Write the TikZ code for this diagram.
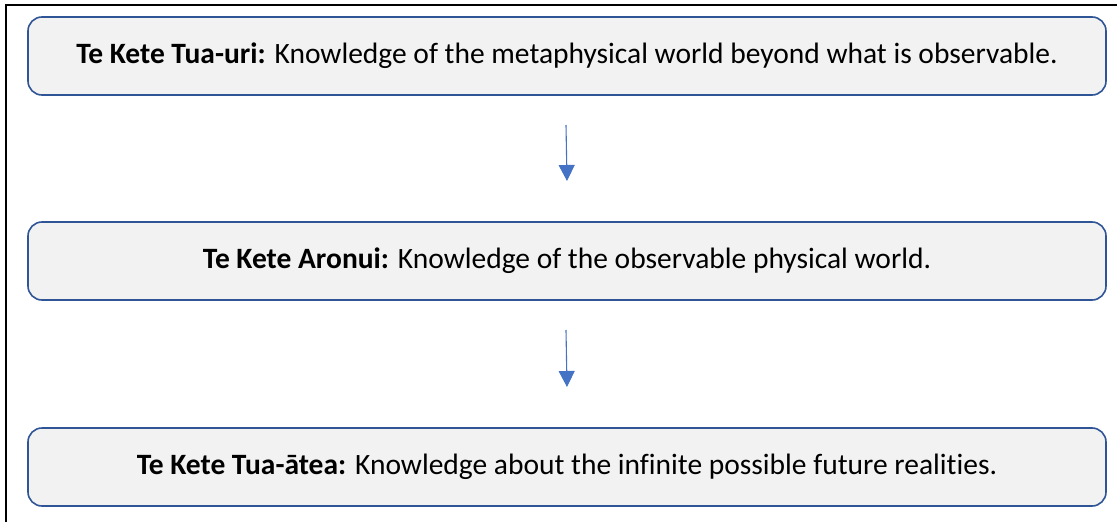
\documentclass[tikz,border=0pt]{standalone}
\usepackage{fontspec}
\setmainfont{Carlito}[Ligatures=CommonOff]
\usepackage{tikz}
\usepackage{xcolor}

\definecolor{ketefill}{HTML}{F2F2F2}
\definecolor{keteline}{HTML}{2F5597}
\definecolor{arrowblue}{HTML}{4472C4}

\tikzset{
  kete/.style={draw=keteline, line width=1.6pt, fill=ketefill, rounded corners=14pt,
    minimum width=1078pt, minimum height=78pt, inner sep=0pt,
    font=\fontsize{29.5}{34}\selectfont},
  flowarrow/.style={draw=arrowblue, line width=1.1pt, -{Triangle[length=16pt,width=16pt]}}
}
\usetikzlibrary{arrows.meta}

\begin{document}
\begin{tikzpicture}[x=1pt,y=-1pt]
\useasboundingbox (0,0) rectangle (1117,522);
\begin{scope}
\clip (0,0) rectangle (1117,522);
\draw[line width=1.5pt] (6,5) rectangle (1130,540);
\end{scope}
\node[kete] (tuauri) at (567,56) {\textbf{Te Kete Tua-uri:} Knowledge of the metaphysical world beyond what is observable.};
\node[kete] (aronui) at (567,261) {\textbf{Te Kete Aronui:} Knowledge of the observable physical world.};
\node[kete] (tuaatea) at (567,467) {\textbf{Te Kete Tua-ātea:} Knowledge about the infinite possible future realities.};
\coordinate (a1) at (566,125);
\coordinate (b1) at (567,181);
\coordinate (a2) at (566,330);
\coordinate (b2) at (567,387);
\draw[flowarrow] (a1) -- (b1);
\draw[flowarrow] (a2) -- (b2);
\end{tikzpicture}
\end{document}
